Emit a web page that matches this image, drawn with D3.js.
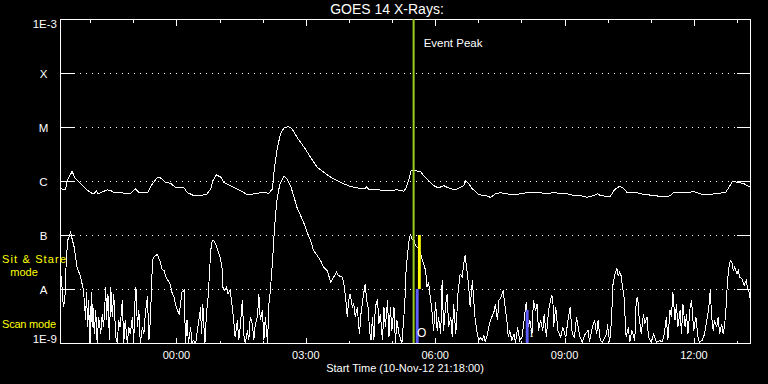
<!DOCTYPE html>
<html><head><meta charset="utf-8">
<script src="https://cdn.jsdelivr.net/npm/d3@7"></script>
<style>
html,body{margin:0;padding:0;background:#000;}
svg{display:block;font-family:"Liberation Sans",Arial,sans-serif;}
</style>
</head><body>
<svg id="chart" width="768" height="384"></svg>
<script>
// ---------- DATA ----------
const startTime = new Date(2012, 10, 10, 21, 18);   // 10-Nov-12 21:18:00
const endTime   = new Date(2012, 10, 11, 13, 18);
const titleText = "GOES 14 X-Rays:";
const xAxisTitle = "Start Time (10-Nov-12 21:18:00)";

const yTickValues = [1e-3, 1e-4, 1e-5, 1e-6, 1e-7, 1e-8, 1e-9];
const yTickLabels = ["1E-3", "X", "M", "C", "B", "A", "1E-9"];

// long channel (1-8 A), minutes after start time / flux W m^-2
const longMinutes = [1,7,9,16,21,28,35,42,46,50, 52,65,70,74,83,97,104,109,121,128,
  135,139,146,153,160,172,176,185,195,204, 209,212,217,223,227,241,250,260,269,278,
  290,295,297,301,306,311,317,322,329,339, 348,357,366,376,385,394,403,413,424,426,
  429,441,455,468,478,481,485,488,492,501, 505,512,519,526,533,538,543,550,561,564,
  568,573,575,582,589,596,598,605,612,621, 631,640,649,659,668,677,686,696,705,714,
  723,733,742,747,751,761,765,770,775,779, 784,788,795,802,807,816,825,835,844,849,
  853,863,872,881,890,900,909,918,925,930, 935,941,951,960];
const longFlux = [
  7.3e-7,7.0e-7,1.01e-6,1.53e-6,1.12e-6,9.1e-7,7.3e-7,6.2e-7,5.9e-7,6.6e-7,
  5.9e-7,7.0e-7,6.8e-7,6.3e-7,6.2e-7,5.9e-7,7.3e-7,6.3e-7,6.2e-7,9.1e-7,
  1.2e-6,1.17e-6,9.7e-7,9.3e-7,7.8e-7,7.6e-7,6.3e-7,5.5e-7,5.5e-7,5.9e-7,
  7.3e-7,1.04e-6,1.33e-6,1.2e-6,9.7e-7,7.8e-7,6.8e-7,5.7e-7,5.9e-7,6.2e-7,
  6.1e-7,7.3e-7,1.49e-6,3.75e-6,7.6e-6,9.9e-6,1.04e-5,9.5e-6,6.6e-6,4.3e-6,
  2.8e-6,1.84e-6,1.49e-6,1.2e-6,1.04e-6,9.1e-7,8.1e-7,7.6e-7,7.3e-7,8.1e-7,
  7.1e-7,7.0e-7,6.8e-7,7.0e-7,6.6e-7,7.8e-7,1.12e-6,1.62e-6,1.6e-6,1.53e-6,
  1.29e-6,1.04e-6,8.4e-7,7.6e-7,8.4e-7,7.8e-7,7.3e-7,7.1e-7,8.4e-7,1.04e-6,
  9.1e-7,7.3e-7,7.0e-7,5.7e-7,5.5e-7,5.3e-7,5.0e-7,5.9e-7,6.2e-7,5.9e-7,
  5.7e-7,5.9e-7,6.2e-7,6.3e-7,6.2e-7,5.9e-7,6.3e-7,5.9e-7,5.9e-7,5.5e-7,
  5.5e-7,5.1e-7,5.5e-7,5.9e-7,5.5e-7,5.3e-7,5.3e-7,6.8e-7,7.8e-7,8.1e-7,
  7.3e-7,6.3e-7,6.3e-7,6.2e-7,5.9e-7,5.7e-7,5.5e-7,5.3e-7,5.3e-7,5.5e-7,
  6.2e-7,6.2e-7,6.2e-7,6.5e-7,5.9e-7,5.7e-7,5.9e-7,6.1e-7,6.2e-7,7.8e-7,
  1.01e-6,9.7e-7,9.1e-7,7.8e-7];

// short channel (0.5-4 A)
const shortMinutes = [
  1,4,6,8,10,14,15,19,23,28, 32,35,36,38,39,41,43,44,45,47,
  49,51,53,56,58,60,63,64,66,68, 70,72,74,77,79,81,83,86,88,90,
  93,95,97,100,102,103,105,107,109,111, 114,116,118,121,123,125,128,130,132,135,
  137,139,141,144,146,148,151,153,155,158, 161,165,167,169,172,174,176,178,181,183,
  185,188,195,196,198,199,201,203,205,207, 209,211,213,216,218,222,225,226,228,231,
  233,236,239,241,243,246,248,250,253,255, 257,260,262,264,267,269,271,274,276,278,
  281,283,285,288,290,292,295,298,301,305, 311,315,320,325,329,334,339,343,348,352,
  357,362,366,371,376,380,384,387,392,394, 397,399,401,403,406,408,410,413,415,416,
  418,421,424,426,428,430,432,434,436,438, 441,443,445,448,450,452,455,457,459,461,
  464,466,468,471,475,479,481,485,487,489, 492,494,499,503,508,510,512,515,517,519,
  522,524,526,529,531,533,536,538,540,543, 545,547,550,553,556,559,561,563,566,568,
  570,573,575,577,580,582,584,587,589,591, 594,598,603,605,608,610,613,616,618,621,
  623,625,628,631,633,636,639,642,646,648, 651,653,656,658,661,663,665,668,671,673,
  676,679,683,685,686,689,692,696,699,703, 706,709,712,715,718,721,723,726,730,734,
  736,740,743,746,748,751,754,757,760,761, 764,767,768,771,773,774,776,778,780,782,
  784,786,787,790,792,795,799,801,803,805, 808,811,813,816,818,822,825,829,834,837,
  840,843,845,848,850,852,855,857,859,862, 864,866,869,871,873,876,878,881,884,887,
  889,893,896,900,902,904,906,908,910,913, 915,917,920,922,924,926,928,930,932,934,
  936,938,941,943,945,948,951,954,956,958,960];
const shortFlux = [
  1.8e-8,4.7e-9,6.3e-9,3.4e-8,8.1e-8,1.15e-7,1.0e-7,6.1e-8,2.6e-8,1.7e-8,
  9.6e-9,2.7e-9,8.9e-9,2.0e-9,6.3e-9,1e-9,8.9e-9,2.0e-9,5.4e-9,1.5e-9,
  4.1e-9,1e-9,3.1e-9,1.5e-9,3.5e-9,2.0e-9,1.1e-8,2.7e-9,8.3e-9,1.14e-9,
  1.1e-8,3.1e-9,8.3e-9,1.3e-9,1e-9,2.7e-9,2.0e-9,6.3e-9,1e-9,2.7e-9,
  1e-9,2.0e-9,1.5e-9,3.1e-9,1e-9,4.7e-9,1.1e-8,2.0e-9,4.1e-9,1e-9,
  2.0e-9,1.5e-9,3.5e-9,7.7e-9,1.14e-9,2.7e-9,3.4e-8,4.0e-8,4.3e-8,4.4e-8,
  3.7e-8,3.2e-8,2.4e-8,2.25e-8,1.8e-8,1.58e-8,1.37e-8,1.19e-8,8.9e-9,7.2e-9,
  4.7e-9,3.5e-9,5.4e-9,8.9e-9,9.6e-9,1e-9,2.7e-9,1e-9,2.0e-9,1e-9,
  1.14e-9,1e-9,4.7e-9,1.5e-9,5.4e-9,2.7e-9,1e-9,3.5e-9,6.3e-9,1.7e-8,
  5.3e-8,7.9e-8,8.1e-8,7.0e-8,5.7e-8,4.0e-8,2.4e-8,1.1e-8,9.6e-9,1.1e-8,
  8.3e-9,9.6e-9,4.7e-9,2.7e-9,1.3e-9,2.7e-9,1.14e-9,2.0e-9,6.3e-9,1.5e-9,
  1e-9,1.74e-9,1.14e-9,3.1e-9,2.3e-9,1.14e-9,2.3e-9,3.1e-9,8.3e-9,2.7e-9,
  4.1e-9,1.14e-9,3.1e-9,1e-9,5.4e-9,9.6e-9,3.4e-8,1.53e-7,4.4e-7,8.8e-7,
  1.24e-6,1.12e-6,8.4e-7,5.1e-7,3.3e-7,2.35e-7,1.65e-7,1.15e-7,8.1e-8,5.3e-8,
  4.3e-8,3.4e-8,2.6e-8,2.25e-8,1.37e-8,1.7e-8,2.1e-8,1.8e-8,1.7e-8,1.37e-8,
  6.3e-9,3.1e-9,6.3e-9,8.3e-9,4.7e-9,5.4e-9,3.1e-9,4.7e-9,2.0e-9,1.5e-9,
  3.5e-9,7.2e-9,1.27e-8,6.3e-9,4.7e-9,1.74e-9,1.14e-9,3.1e-9,1.14e-9,4.7e-9,
  6.7e-9,2.3e-9,3.5e-9,1.14e-9,4.7e-9,2.0e-9,6.3e-9,1.3e-9,4.7e-9,1.74e-9,
  4.7e-9,1e-9,2.7e-9,1.5e-9,1e-9,5.4e-9,2.6e-8,8.1e-8,1.07e-7,8.7e-8,
  8.1e-8,6.5e-8,5.7e-8,3.7e-8,2.25e-8,1.1e-8,1.37e-8,6.3e-9,3.8e-9,1.74e-9,
  5.8e-9,1.74e-9,3.1e-9,1.5e-9,1.47e-8,1.74e-9,5.4e-9,8.3e-9,2.0e-9,3.1e-9,
  1.3e-9,5.4e-9,1.5e-9,8.3e-9,1.95e-8,1.7e-8,3.0e-8,4.3e-8,1.95e-8,1.1e-8,
  4.7e-9,1.47e-8,6.3e-9,2.7e-9,1.5e-9,1.14e-9,1.3e-9,1.14e-9,1.4e-9,1.06e-9,
  1.5e-9,2.7e-9,3.8e-9,5.4e-9,2.7e-9,6.3e-9,7.2e-9,9.6e-9,5.4e-9,2.7e-9,
  1.3e-9,1.74e-9,1.14e-9,1.5e-9,1e-9,2.0e-9,1.14e-9,1.3e-9,3.5e-9,5.8e-9,
  2.0e-9,2.7e-9,1.5e-9,6.3e-9,4.1e-9,5.4e-9,1.74e-9,2.7e-9,1.74e-9,3.5e-9,
  1.3e-9,4.1e-9,7.7e-9,7.2e-9,2.0e-9,4.7e-9,1.74e-9,1.3e-9,2.0e-9,1.3e-9,
  2.7e-9,4.7e-9,1.5e-9,1.3e-9,3.1e-9,1.74e-9,1.3e-9,1.06e-9,1.5e-9,1.74e-9,
  1.06e-9,2.0e-9,2.7e-9,1.5e-9,2.7e-9,1.14e-9,1.06e-9,1.3e-9,1.5e-9,2.3e-9,
  1.06e-9,3.1e-9,1.1e-8,1.8e-8,2.25e-8,2.5e-8,1.8e-8,2.1e-8,1.8e-8,1.1e-8,
  7.2e-9,2.3e-9,1.3e-9,2.0e-9,1.06e-9,1.74e-9,1.14e-9,6.3e-9,7.2e-9,3.1e-9,
  1.5e-9,3.5e-9,2.3e-9,3.1e-9,1.3e-9,1.06e-9,1.5e-9,1.06e-9,1.14e-9,1.06e-9,
  1.5e-9,3.1e-9,1.14e-9,4.1e-9,3.1e-9,8.9e-9,2.7e-9,5.4e-9,2.0e-9,4.1e-9,
  1.5e-9,5.4e-9,2.0e-9,3.5e-9,1.5e-9,4.7e-9,6.3e-9,1.74e-9,3.1e-9,1.3e-9,
  1.06e-9,1.14e-9,1.5e-9,3.1e-9,4.7e-9,9.6e-9,3.1e-9,1.74e-9,2.7e-9,2.0e-9,
  3.1e-9,1.5e-9,2.3e-9,1.5e-9,2.15e-9,4.7e-9,1.47e-8,2.6e-8,3.4e-8,3.2e-8,
  2.25e-8,2.6e-8,1.95e-8,2.25e-8,1.7e-8,1.58e-8,1.19e-8,1.47e-8,1.03e-8,8.9e-9,6.3e-9];

// event peak and instrument mode intervals (minutes after start)
const eventPeakMinute = 492;            // 05:30
const eventLabel = "Event Peak";
const sitStareIntervals = [[498, 502]]; // spans B..A level
const sitStareLevels = [[1e-7, 1e-8]];
const scanIntervals = [[495, 499.5], [648, 652]];
const scanLevels = [[1e-8, 1e-9], [4.1e-9, 1e-9]];
const scanMarks = ["O", "I"];

// ---------- DRAW ----------
const W = 768, H = 384;
const L = 60, R = 750, T = 19, B = 343;
const svg = d3.select("#chart");
svg.append("rect").attr("width", W).attr("height", H).attr("fill", "#000");

const x = d3.scaleTime().domain([startTime, endTime]).range([L, R]);
const y = d3.scaleLog().domain([1e-9, 1e-3]).range([B, T]).clamp(true);
const tm = m => d3.timeMinute.offset(startTime, m);

const g = svg.append("g").attr("transform", "translate(0.5,0.5)");

// dotted grid lines
g.selectAll("line.grid").data(yTickValues.slice(1, -1)).join("line")
  .attr("x1", L + 19).attr("x2", R - 14)
  .attr("y1", d => y(d)).attr("y2", d => y(d))
  .attr("stroke", "#fff").attr("stroke-dasharray", "1 5")
  .attr("shape-rendering", "crispEdges");

// y ticks (left & right)
g.selectAll("line.yl").data(yTickValues.slice(1, -1)).join("line")
  .attr("x1", L).attr("x2", L + 14).attr("y1", d => y(d)).attr("y2", d => y(d))
  .attr("stroke", "#fff").attr("shape-rendering", "crispEdges");
g.selectAll("line.yr").data(yTickValues.slice(1, -1)).join("line")
  .attr("x1", R - 14).attr("x2", R).attr("y1", d => y(d)).attr("y2", d => y(d))
  .attr("stroke", "#fff").attr("shape-rendering", "crispEdges");

// x ticks (top & bottom), hourly, longer every 3 hours
const hours = d3.timeHour.range(startTime, endTime);
const isMajor = d => d.getHours() % 3 === 0;
g.selectAll("line.xt").data(hours).join("line")
  .attr("x1", d => Math.round(x(d))).attr("x2", d => Math.round(x(d)))
  .attr("y1", T).attr("y2", d => T + (isMajor(d) ? 6 : 3))
  .attr("stroke", "#fff").attr("shape-rendering", "crispEdges");
g.selectAll("line.xb").data(hours).join("line")
  .attr("x1", d => Math.round(x(d))).attr("x2", d => Math.round(x(d)))
  .attr("y1", B).attr("y2", d => B - (isMajor(d) ? 6 : 3))
  .attr("stroke", "#fff").attr("shape-rendering", "crispEdges");

// mode bars
scanIntervals.forEach((iv, i) => {
  svg.append("rect")
    .attr("x", x(tm(iv[0]))).attr("width", x(tm(iv[1])) - x(tm(iv[0])))
    .attr("y", y(scanLevels[i][0])).attr("height", y(scanLevels[i][1]) - y(scanLevels[i][0]))
    .attr("fill", "#5f5fff");
});
sitStareIntervals.forEach((iv, i) => {
  svg.append("rect")
    .attr("x", x(tm(iv[0]))).attr("width", x(tm(iv[1])) - x(tm(iv[0])))
    .attr("y", y(sitStareLevels[i][0])).attr("height", y(sitStareLevels[i][1]) - y(sitStareLevels[i][0]))
    .attr("fill", "#ffff00");
});

// event peak line
svg.append("line")
  .attr("x1", x(tm(eventPeakMinute))).attr("x2", x(tm(eventPeakMinute)))
  .attr("y1", T).attr("y2", B)
  .attr("stroke", "#9ccc1e").attr("stroke-width", 2);
svg.append("text").attr("x", x(tm(eventPeakMinute)) + 10).attr("y", 47)
  .attr("fill", "#fff").attr("font-size", 11.5).text(eventLabel);

// curves
const line = d3.line().x(d => x(tm(d[0]))).y(d => y(d[1]));
const longData = longMinutes.map((m, i) => [m, longFlux[i]]);
const shortData = shortMinutes.map((m, i) => [m, shortFlux[i]]);
[longData, shortData].forEach(data => {
  g.append("path").datum(data).attr("d", line)
    .attr("fill", "none").attr("stroke", "#fff").attr("stroke-width", 1)
    .attr("shape-rendering", "crispEdges");
});

// scan marks
scanIntervals.forEach((iv, i) => {
  svg.append("text").attr("x", x(tm(iv[1])) + 3).attr("y", 337)
    .attr("text-anchor", "middle").attr("fill", "#fff")
    .attr("font-size", i === 0 ? 12 : 11)
    .attr("font-family", i === 0 ? null : "Liberation Serif")
    .text(scanMarks[i]);
});

// frame
g.append("rect").attr("x", L).attr("y", T).attr("width", R - L).attr("height", B - T)
  .attr("fill", "none").attr("stroke", "#fff").attr("shape-rendering", "crispEdges");

// y labels
yTickValues.forEach((v, i) => {
  const lab = yTickLabels[i];
  const t = svg.append("text").attr("fill", "#fff").attr("font-size", 11.5).text(lab);
  if (i === 0) t.attr("x", 57).attr("y", y(v) + 8.5).attr("text-anchor", "end");
  else if (i === yTickValues.length - 1) t.attr("x", 57).attr("y", y(v)).attr("text-anchor", "end");
  else t.attr("x", 43.5).attr("y", y(v) + 4.5).attr("text-anchor", "middle");
});

// x tick labels
svg.selectAll("text.xl").data(hours.filter(isMajor)).join("text")
  .attr("x", d => x(d)).attr("y", 359).attr("text-anchor", "middle")
  .attr("fill", "#fff").attr("font-size", 11)
  .text(d3.timeFormat("%H:%M"));

// titles
svg.append("text").attr("x", 387).attr("y", 14).attr("text-anchor", "middle")
  .attr("fill", "#fff").attr("font-size", 14).text(titleText);
svg.append("text").attr("x", 405).attr("y", 371.5).attr("text-anchor", "middle")
  .attr("fill", "#fff").attr("font-size", 11).text(xAxisTitle);

// mode labels
svg.append("text").attr("x", 2).attr("y", 263).attr("fill", "#ffff00")
  .attr("font-size", 11).attr("textLength", 64).attr("lengthAdjust", "spacing").text("Sit & Stare");
svg.append("text").attr("x", 24).attr("y", 276).attr("text-anchor", "middle").attr("fill", "#ffff00")
  .attr("font-size", 11).text("mode");
svg.append("text").attr("x", 2).attr("y", 328).attr("fill", "#ffff00")
  .attr("font-size", 11).attr("textLength", 54).attr("lengthAdjust", "spacing").text("Scan mode");
</script>
</body></html>
